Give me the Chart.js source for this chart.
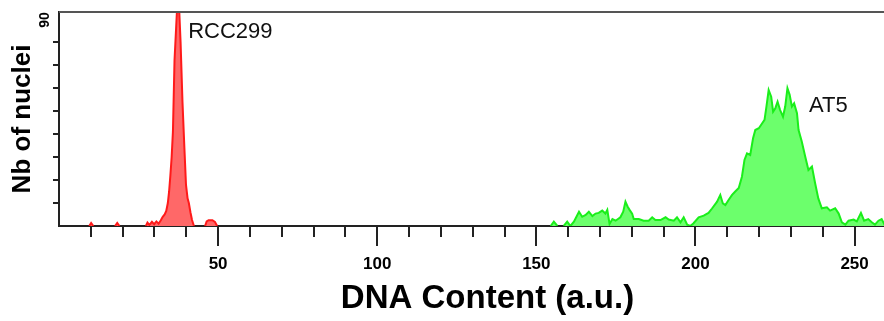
<!DOCTYPE html>
<html>
<head>
<meta charset="utf-8">
<script src="https://cdn.jsdelivr.net/npm/chart.js@4.4.0/dist/chart.umd.min.js"></script>
<style>
  html, body { margin: 0; padding: 0; background: #fff; overflow: hidden; }
  #wrap { width: 884px; height: 321px; overflow: hidden; }
</style>
</head>
<body>
<div id="wrap"><canvas id="chart-area" width="916" height="321"></canvas></div>
<script>
// RCC299 histogram (DNA content, count)
const rccX = [9.5, 10.1, 10.8, 17.6, 18.3, 19.0, 27.3, 27.8, 28.4, 29.2, 29.9, 30.6, 31.3, 32.0, 32.6, 33.2, 33.7, 34.2, 34.6, 35.0, 35.4, 35.8, 36.3, 36.8, 37.3, 37.8, 38.2, 38.8, 39.4, 39.9, 40.4, 40.8, 41.3, 41.8, 42.4, 45.9, 46.4, 47.0, 48.2, 49.0, 49.7];
const rccCounts = [0, 1.3, 0, 0, 1.3, 0, 0, 1.5, 0.5, 1.8, 0.8, 2, 1, 2.5, 4, 5, 6.5, 10, 15, 22, 30, 41, 72, 86, 100, 93, 80, 54, 34, 18, 12, 10, 6, 2.6, 0, 0, 2, 2.5, 2.5, 1.8, 0];

// AT5 histogram
const at5X = [153.5, 154.5, 155.5, 156.6, 158.6, 159.7, 160.7, 161.8, 163.4, 164.4, 165.5, 166.5, 167.6, 168.6, 169.6, 170.7, 171.7, 172.3, 173.0, 173.9, 174.9, 176.4, 177.3, 178.0, 178.7, 179.4, 180.1, 180.6, 182.2, 183.7, 185.3, 186.4, 187.4, 189.0, 190.6, 191.6, 193.2, 194.2, 195.3, 196.3, 197.4, 198.4, 199.4, 201.0, 202.6, 204.1, 205.2, 206.8, 207.8, 208.6, 209.4, 210.4, 211.5, 212.5, 213.6, 214.6, 215.4, 216.2, 217.2, 218.1, 218.8, 219.9, 220.6, 221.7, 222.3, 223.0, 223.8, 224.4, 225.1, 225.8, 226.6, 227.5, 228.2, 228.9, 229.6, 230.3, 231.0, 231.9, 232.4, 233.4, 234.5, 235.5, 236.6, 237.6, 238.6, 239.7, 241.3, 242.3, 243.9, 245.0, 246.0, 247.1, 248.1, 249.7, 250.7, 252.0, 253.0, 254.3, 255.4, 256.4, 257.5, 258.5, 259.3, 261.0];
const at5Counts = [0, 0, 1.9, 0, 0, 1.9, 0, 1.9, 6.2, 4, 4.8, 6.2, 4.3, 5.4, 5.7, 6.7, 5.4, 7, 0.9, 3, 2.3, 3.8, 6.2, 10.6, 8.4, 6.8, 5.4, 3, 3, 2.3, 2.3, 3.8, 2.6, 2.6, 3.8, 2.8, 2.3, 3.8, 1.6, 3.8, 0.6, 0, 1.2, 3.8, 4.5, 5.7, 7.6, 10.6, 13.5, 9.8, 9.1, 11.3, 13.5, 15, 16.5, 21.4, 28.7, 31.6, 30.9, 38.1, 41.7, 42.5, 43.9, 46.1, 51.9, 59.1, 56.2, 49.7, 51.2, 54, 50.4, 47.5, 51.9, 59.9, 57, 51.9, 53.3, 49, 41.7, 36.7, 30.1, 24.3, 25.8, 18.6, 12, 7.7, 8.1, 6.7, 7.7, 5.4, 1.6, 0.6, 2.3, 2.8, 2, 5.7, 2.3, 3, 1.6, 0.6, 2.3, 3, 0.9, 2];

const xLabelTicks = [50, 100, 150, 200, 250];
const yLabelTicks = [90];

const peakNames = ['RCC299', 'AT5'];
const peakNameX = [40.6, 235.7];
const peakNameY = [84.3, 52.1];

const FONT = "'Liberation Sans', Arial, sans-serif";

function toPoints(xs, ys) {
  return xs.map((v, i) => ({x: v, y: ys[i]}));
}

// no line along the baseline, the axis stays black there
const hideFlat = ctx => (ctx.p0.parsed.y === 0 && ctx.p1.parsed.y === 0) ? 'rgba(0,0,0,0)' : undefined;

// tick marks, top frame line, y tick label and peak names
const axisDeco = {
  id: 'axisDeco',
  afterDraw(chart) {
    const {ctx, chartArea, scales: {x, y}} = chart;
    ctx.save();
    ctx.lineWidth = 2;
    ctx.strokeStyle = '#555';
    ctx.beginPath();
    ctx.moveTo(chartArea.left, chartArea.top);
    ctx.lineTo(chartArea.right, chartArea.top);
    ctx.stroke();

    ctx.strokeStyle = '#222';
    x.ticks.forEach(t => {
      if (t.value <= 0 || t.value % 10 !== 0) return;
      const px = Math.round(x.getPixelForValue(t.value));
      const len = t.value % 50 === 0 ? 20 : 11;
      ctx.beginPath();
      ctx.moveTo(px, chartArea.bottom);
      ctx.lineTo(px, chartArea.bottom + len);
      ctx.stroke();
    });
    y.ticks.forEach(t => {
      if (t.value <= 0 || t.value % 10 !== 0) return;
      const py = Math.round(y.getPixelForValue(t.value));
      ctx.beginPath();
      ctx.moveTo(chartArea.left, py);
      ctx.lineTo(chartArea.left - 6, py);
      ctx.stroke();
    });

    ctx.fillStyle = '#000';
    ctx.font = 'bold 14px ' + FONT;
    ctx.textAlign = 'center';
    ctx.textBaseline = 'middle';
    yLabelTicks.forEach(v => {
      ctx.save();
      ctx.translate(chartArea.left - 14, y.getPixelForValue(v) + 1);
      ctx.rotate(-Math.PI / 2);
      ctx.fillText(String(v), 0, 0);
      ctx.restore();
    });

    ctx.fillStyle = '#111';
    ctx.font = '22px ' + FONT;
    ctx.textAlign = 'left';
    peakNames.forEach((name, i) => {
      ctx.fillText(name, x.getPixelForValue(peakNameX[i]), y.getPixelForValue(peakNameY[i]));
    });
    ctx.restore();
  }
};

const ctx = document.getElementById('chart-area').getContext('2d');
const chart = new Chart(ctx, {
  type: 'line',
  data: {
    datasets: [{
      label: 'RCC299',
      data: toPoints(rccX, rccCounts),
      borderColor: '#ff1a1a',
      backgroundColor: '#ff6868',
      borderWidth: 2,
      fill: 'origin',
      pointRadius: 0,
      tension: 0,
      segment: {borderColor: hideFlat}
    }, {
      label: 'AT5',
      data: toPoints(at5X, at5Counts),
      borderColor: '#1aee1a',
      backgroundColor: '#6cff6c',
      borderWidth: 2,
      fill: 'origin',
      pointRadius: 0,
      tension: 0,
      segment: {borderColor: hideFlat}
    }]
  },
  options: {
    responsive: false,
    animation: false,
    layout: {padding: {top: 12, left: 0, right: 0, bottom: 0}},
    plugins: {
      legend: {display: false},
      tooltip: {enabled: false}
    },
    scales: {
      x: {
        type: 'linear',
        min: 0,
        max: 269.3,
        afterFit(scale) {
          scale.height = 95;
          scale.paddingLeft = 0;
          scale.paddingRight = 0;
        },
        grid: {display: true, drawOnChartArea: false, drawTicks: false},
        border: {display: true, color: '#222', width: 2},
        ticks: {
          stepSize: 10,
          autoSkip: false,
          maxRotation: 0,
          padding: 28,
          color: '#000',
          font: {family: FONT, size: 17, weight: 'bold'},
          callback: v => xLabelTicks.includes(v) ? String(v) : ''
        },
        title: {
          display: true,
          text: 'DNA Content (a.u.)',
          color: '#000',
          font: {family: FONT, size: 33, weight: 'bold'},
          padding: {top: 0, bottom: 2}
        }
      },
      y: {
        min: 0,
        max: 93,
        afterFit(scale) { scale.width = 59; },
        grid: {display: true, drawOnChartArea: false, drawTicks: false},
        border: {display: true, color: '#222', width: 2},
        ticks: {stepSize: 10, display: false},
        title: {
          display: true,
          text: 'Nb of nuclei',
          color: '#000',
          font: {family: FONT, size: 26, weight: 'bold'},
          padding: {top: 7, bottom: 0}
        }
      }
    }
  },
  plugins: [axisDeco]
});
</script>
</body>
</html>
